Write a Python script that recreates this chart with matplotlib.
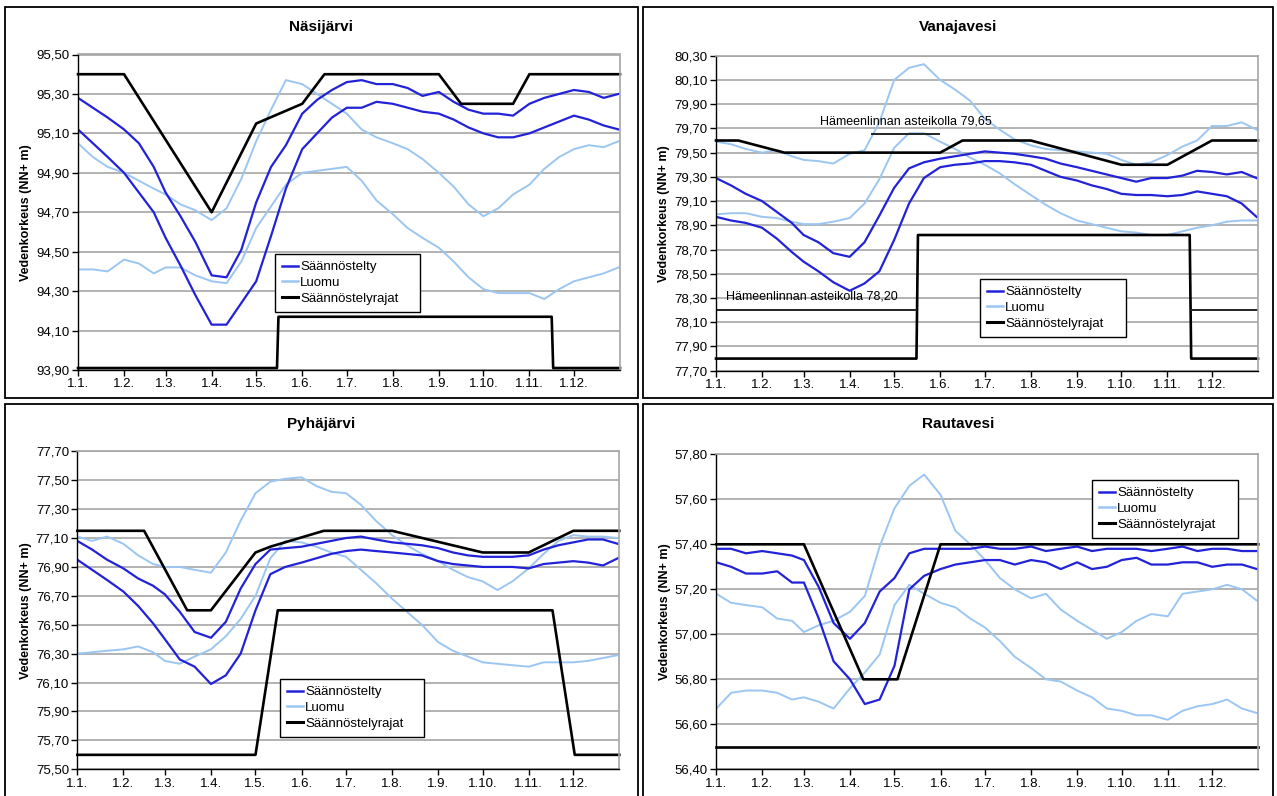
import matplotlib
matplotlib.use("Agg")
import numpy as np
import matplotlib.pyplot as plt
from matplotlib.patches import Rectangle
from matplotlib.lines import Line2D

plt.rcParams['font.family'] = ['Liberation Sans', 'DejaVu Sans']

W, H = 1277, 796

# day of year for each reading (1st, 11th and 21st of every month + 31.12.)
days = [0, 10, 20, 31, 41, 51, 59, 69, 79, 90, 100, 110, 120, 130, 140, 151, 161, 171,
        181, 191, 201, 212, 222, 232, 243, 253, 263, 273, 283, 293, 304, 314, 324, 334,
        344, 354, 364]
month_starts = [0, 31, 59, 90, 120, 151, 181, 212, 243, 273, 304, 334]
month_labels = ["1.%d." % m for m in range(1, 13)]

# --- Näsijärvi ---
nasi_saan_hi = [95.28, 95.23, 95.18, 95.12, 95.05, 94.93, 94.80, 94.68, 94.55, 94.38, 94.37, 94.51,
                94.75, 94.93, 95.04, 95.20, 95.27, 95.32, 95.36, 95.37, 95.35, 95.35, 95.33, 95.29,
                95.31, 95.26, 95.22, 95.20, 95.20, 95.19, 95.25, 95.28, 95.30, 95.32, 95.31, 95.28, 95.30]
nasi_saan_lo = [95.12, 95.05, 94.98, 94.90, 94.80, 94.70, 94.57, 94.43, 94.28, 94.13, 94.13, 94.24,
                94.35, 94.58, 94.82, 95.02, 95.10, 95.18, 95.23, 95.23, 95.26, 95.25, 95.23, 95.21,
                95.20, 95.17, 95.13, 95.10, 95.08, 95.08, 95.10, 95.13, 95.16, 95.19, 95.17, 95.14, 95.12]
nasi_luomu_hi = [95.05, 94.98, 94.93, 94.90, 94.86, 94.82, 94.79, 94.74, 94.71, 94.66, 94.72, 94.87,
                 95.06, 95.22, 95.37, 95.35, 95.30, 95.25, 95.20, 95.12, 95.08, 95.05, 95.02, 94.97,
                 94.90, 94.83, 94.74, 94.68, 94.72, 94.79, 94.84, 94.92, 94.98, 95.02, 95.04, 95.03, 95.06]
nasi_luomu_lo = [94.41, 94.41, 94.40, 94.46, 94.44, 94.39, 94.42, 94.42, 94.38, 94.35, 94.34, 94.45,
                 94.62, 94.73, 94.84, 94.90, 94.91, 94.92, 94.93, 94.86, 94.76, 94.69, 94.62, 94.57,
                 94.52, 94.45, 94.37, 94.31, 94.29, 94.29, 94.29, 94.26, 94.31, 94.35, 94.37, 94.39, 94.42]
nasi_ylaraja_d = [0, 31, 90, 120, 151, 166, 243, 258, 293, 304, 365]
nasi_ylaraja = [95.40, 95.40, 94.70, 95.15, 95.25, 95.40, 95.40, 95.25, 95.25, 95.40, 95.40]
nasi_alaraja_d = [0, 134, 135, 319, 320, 365]
nasi_alaraja = [93.91, 93.91, 94.17, 94.17, 93.91, 93.91]

# --- Vanajavesi ---
vana_saan_hi = [79.29, 79.23, 79.16, 79.10, 79.01, 78.92, 78.82, 78.76, 78.67, 78.64, 78.76, 78.98,
                79.21, 79.37, 79.42, 79.45, 79.47, 79.49, 79.51, 79.50, 79.49, 79.47, 79.45, 79.41,
                79.38, 79.35, 79.32, 79.29, 79.26, 79.29, 79.29, 79.31, 79.35, 79.34, 79.32, 79.34, 79.29]
vana_saan_lo = [78.97, 78.94, 78.92, 78.88, 78.79, 78.68, 78.60, 78.52, 78.43, 78.36, 78.42, 78.52,
                78.78, 79.08, 79.29, 79.38, 79.40, 79.41, 79.43, 79.43, 79.42, 79.40, 79.35, 79.30,
                79.27, 79.23, 79.20, 79.16, 79.15, 79.15, 79.14, 79.15, 79.18, 79.16, 79.14, 79.08, 78.97]
vana_luomu_hi = [79.59, 79.57, 79.53, 79.50, 79.52, 79.47, 79.44, 79.43, 79.41, 79.49, 79.52, 79.75,
                 80.10, 80.20, 80.23, 80.10, 80.02, 79.93, 79.78, 79.69, 79.61, 79.56, 79.53, 79.52,
                 79.51, 79.50, 79.49, 79.44, 79.40, 79.42, 79.48, 79.55, 79.60, 79.72, 79.72, 79.75, 79.69]
vana_luomu_lo = [78.99, 79.00, 79.00, 78.97, 78.96, 78.93, 78.91, 78.91, 78.93, 78.96, 79.08, 79.28,
                 79.54, 79.66, 79.66, 79.59, 79.53, 79.46, 79.40, 79.33, 79.24, 79.15, 79.07, 79.00,
                 78.94, 78.91, 78.88, 78.85, 78.84, 78.82, 78.82, 78.85, 78.88, 78.90, 78.93, 78.94, 78.94]
vana_ylaraja_d = [0, 15, 46, 151, 166, 212, 273, 304, 334, 365]
vana_ylaraja = [79.60, 79.60, 79.50, 79.50, 79.60, 79.60, 79.40, 79.40, 79.60, 79.60]
vana_alaraja_d = [0, 135, 136, 319, 320, 365]
vana_alaraja = [77.80, 77.80, 78.82, 78.82, 77.80, 77.80]
vana_hml_low = 78.20
vana_hml_high = 79.65

# --- Pyhäjärvi ---
pyha_saan_hi = [77.08, 77.02, 76.95, 76.89, 76.82, 76.77, 76.71, 76.59, 76.45, 76.41, 76.52, 76.75,
                76.92, 77.02, 77.03, 77.04, 77.06, 77.08, 77.10, 77.11, 77.09, 77.07, 77.06, 77.05,
                77.03, 77.00, 76.98, 76.97, 76.97, 76.97, 76.98, 77.02, 77.05, 77.07, 77.09, 77.09, 77.06]
pyha_saan_lo = [76.95, 76.88, 76.81, 76.73, 76.63, 76.51, 76.40, 76.26, 76.21, 76.09, 76.15, 76.30,
                76.60, 76.85, 76.90, 76.93, 76.96, 76.99, 77.01, 77.02, 77.01, 77.00, 76.99, 76.98,
                76.94, 76.92, 76.91, 76.90, 76.90, 76.90, 76.89, 76.92, 76.93, 76.94, 76.93, 76.91, 76.96]
pyha_luomu_hi = [77.11, 77.08, 77.11, 77.06, 76.98, 76.92, 76.90, 76.90, 76.88, 76.86, 77.00, 77.22,
                 77.41, 77.49, 77.51, 77.52, 77.46, 77.42, 77.41, 77.33, 77.22, 77.12, 77.05, 76.99,
                 76.94, 76.88, 76.83, 76.80, 76.74, 76.80, 76.89, 76.99, 77.08, 77.12, 77.11, 77.11, 77.10]
pyha_luomu_lo = [76.30, 76.31, 76.32, 76.33, 76.35, 76.31, 76.25, 76.23, 76.28, 76.33, 76.42, 76.54,
                 76.70, 76.96, 77.08, 77.07, 77.04, 77.00, 76.97, 76.88, 76.79, 76.68, 76.59, 76.50,
                 76.38, 76.32, 76.28, 76.24, 76.23, 76.22, 76.21, 76.24, 76.24, 76.24, 76.25, 76.27, 76.29]
pyha_ylaraja_d = [0, 45, 74, 90, 120, 130, 166, 212, 273, 304, 334, 365]
pyha_ylaraja = [77.15, 77.15, 76.60, 76.60, 77.00, 77.04, 77.15, 77.15, 77.00, 77.00, 77.15, 77.15]
pyha_alaraja_d = [0, 120, 135, 320, 335, 365]
pyha_alaraja = [75.60, 75.60, 76.60, 76.60, 75.60, 75.60]

# --- Rautavesi ---
rauta_saan_hi = [57.38, 57.38, 57.36, 57.37, 57.36, 57.35, 57.33, 57.21, 57.05, 56.98, 57.05, 57.19,
                 57.25, 57.36, 57.38, 57.38, 57.38, 57.38, 57.39, 57.38, 57.38, 57.39, 57.37, 57.38,
                 57.39, 57.37, 57.38, 57.38, 57.38, 57.37, 57.38, 57.39, 57.37, 57.38, 57.38, 57.37, 57.37]
rauta_saan_lo = [57.32, 57.30, 57.27, 57.27, 57.28, 57.23, 57.23, 57.07, 56.88, 56.80, 56.69, 56.71,
                 56.86, 57.20, 57.26, 57.29, 57.31, 57.32, 57.33, 57.33, 57.31, 57.33, 57.32, 57.29,
                 57.32, 57.29, 57.30, 57.33, 57.34, 57.31, 57.31, 57.32, 57.32, 57.30, 57.31, 57.31, 57.29]
rauta_luomu_hi = [57.18, 57.14, 57.13, 57.12, 57.07, 57.06, 57.01, 57.04, 57.06, 57.10, 57.17, 57.39,
                  57.56, 57.66, 57.71, 57.62, 57.46, 57.40, 57.33, 57.25, 57.20, 57.16, 57.18, 57.11,
                  57.06, 57.02, 56.98, 57.01, 57.06, 57.09, 57.08, 57.18, 57.19, 57.20, 57.22, 57.20, 57.15]
rauta_luomu_lo = [56.67, 56.74, 56.75, 56.75, 56.74, 56.71, 56.72, 56.70, 56.67, 56.76, 56.83, 56.91,
                  57.13, 57.22, 57.18, 57.14, 57.12, 57.07, 57.03, 56.97, 56.90, 56.85, 56.80, 56.79,
                  56.75, 56.72, 56.67, 56.66, 56.64, 56.64, 56.62, 56.66, 56.68, 56.69, 56.71, 56.67, 56.65]
rauta_ylaraja_d = [0, 59, 99, 122, 151, 365]
rauta_ylaraja = [57.40, 57.40, 56.80, 56.80, 57.40, 57.40]
rauta_alaraja_d = [0, 365]
rauta_alaraja = [56.50, 56.50]

C_SAAN = '#2222d8'
C_LUOMU = '#9cc6f2'
C_RAJA = '#000000'
C_GRID = '#a6a6a6'

fig = plt.figure(figsize=(W / 100, H / 100), dpi=100)
fig.patch.set_facecolor('white')


def fig_rect(left, top, right, bottom):
    return [left / W, 1 - bottom / H, (right - left) / W, (bottom - top) / H]


def draw_panel(name, box, plot, yrange, s_hi, s_lo, l_hi, l_lo, up_d, up, lo_d, lo, leg):
    # outer chart border
    bx0, by0, bx1, by1 = box
    fig.patches.append(Rectangle((bx0 / W, 1 - by1 / H), (bx1 - bx0) / W, (by1 - by0) / H,
                                 transform=fig.transFigure, fill=False, edgecolor='black',
                                 linewidth=1.3, zorder=0))
    fig.text((bx0 + bx1) / 2 / W, 1 - (by0 + 20) / H, name, ha='center', va='center',
             fontsize=11, fontweight='bold')

    ax = fig.add_axes(fig_rect(*plot))
    ymin, ymax = yrange
    ax.set_xlim(0, 365)
    ax.set_ylim(ymin, ymax)
    yt = np.round(np.arange(ymin, ymax + 0.001, 0.2), 2)
    ax.set_yticks(yt)
    ax.set_yticklabels([("%.2f" % v).replace('.', ',') for v in yt])
    ax.set_xticks(month_starts)
    ax.set_xticklabels(month_labels)
    ax.yaxis.grid(True, color=C_GRID, linewidth=1.2)
    ax.set_axisbelow(True)
    ax.tick_params(direction='out', length=4, width=1, labelsize=9.5, pad=2, colors='black')
    for side in ('top', 'right'):
        ax.spines[side].set_color(C_GRID)
        ax.spines[side].set_linewidth(1.2)
    for side in ('left', 'bottom'):
        ax.spines[side].set_color('black')
        ax.spines[side].set_linewidth(1.0)
    ax.set_ylabel('Vedenkorkeus (NN+ m)', fontsize=9, fontweight='bold', labelpad=3)

    ax.plot(days, l_hi, color=C_LUOMU, lw=1.4)
    ax.plot(days, l_lo, color=C_LUOMU, lw=1.4)
    ax.plot(days, s_hi, color=C_SAAN, lw=1.6)
    ax.plot(days, s_lo, color=C_SAAN, lw=1.6)
    ax.plot(up_d, up, color=C_RAJA, lw=1.9, clip_on=False)
    ax.plot(lo_d, lo, color=C_RAJA, lw=1.9, clip_on=False)

    handles = [Line2D([], [], color=C_SAAN, lw=1.8),
               Line2D([], [], color=C_LUOMU, lw=1.8),
               Line2D([], [], color=C_RAJA, lw=2.2)]
    lx0, ly0, lx1, ly1 = leg
    lg = ax.legend(handles, ['Säännöstelty', 'Luomu', 'Säännöstelyrajat'],
                   loc='upper left', mode='expand',
                   bbox_to_anchor=(lx0 / W, 1 - ly1 / H, (lx1 - lx0) / W, (ly1 - ly0) / H),
                   bbox_transform=fig.transFigure, borderaxespad=0, fancybox=False,
                   framealpha=1, edgecolor='black', fontsize=9.5, handlelength=1.2,
                   handletextpad=0.15, labelspacing=0.25, borderpad=0.55)
    lg.get_frame().set_linewidth(1.0)
    return ax


draw_panel('Näsijärvi', (5, 7, 638, 398), (78, 54.5, 620, 370), (93.90, 95.50),
           nasi_saan_hi, nasi_saan_lo, nasi_luomu_hi, nasi_luomu_lo,
           nasi_ylaraja_d, nasi_ylaraja, nasi_alaraja_d, nasi_alaraja, (275, 254, 420, 312))

ax2 = draw_panel('Vanajavesi', (643, 7, 1273, 398), (716, 55.7, 1258, 370.7), (77.70, 80.30),
                 vana_saan_hi, vana_saan_lo, vana_luomu_hi, vana_luomu_lo,
                 vana_ylaraja_d, vana_ylaraja, vana_alaraja_d, vana_alaraja, (980, 279, 1126, 343))
# Hämeenlinna gauge reference levels
ax2.plot([0, 135], [vana_hml_low, vana_hml_low], color='#222222', lw=1.4)
ax2.plot([320, 365], [vana_hml_low, vana_hml_low], color='#222222', lw=1.4)
ax2.plot([105, 150], [vana_hml_high, vana_hml_high], color='#222222', lw=1.4)
ax2.text(70, 79.76, 'Hämeenlinnan asteikolla 79,65', fontsize=9, va='center', ha='left')
ax2.text(7, 78.31, 'Hämeenlinnan asteikolla 78,20', fontsize=9, va='center', ha='left')

draw_panel('Pyhäjärvi', (5, 404, 638, 800), (77.3, 451.3, 619.3, 769.3), (75.50, 77.70),
           pyha_saan_hi, pyha_saan_lo, pyha_luomu_hi, pyha_luomu_lo,
           pyha_ylaraja_d, pyha_ylaraja, pyha_alaraja_d, pyha_alaraja, (280, 679, 424, 741))

draw_panel('Rautavesi', (643, 404, 1273, 800), (716.3, 454.3, 1258.3, 769.3), (56.40, 57.80),
           rauta_saan_hi, rauta_saan_lo, rauta_luomu_hi, rauta_luomu_lo,
           rauta_ylaraja_d, rauta_ylaraja, rauta_alaraja_d, rauta_alaraja, (1092, 480, 1238, 539))

fig.savefig('out.png', dpi=100)
